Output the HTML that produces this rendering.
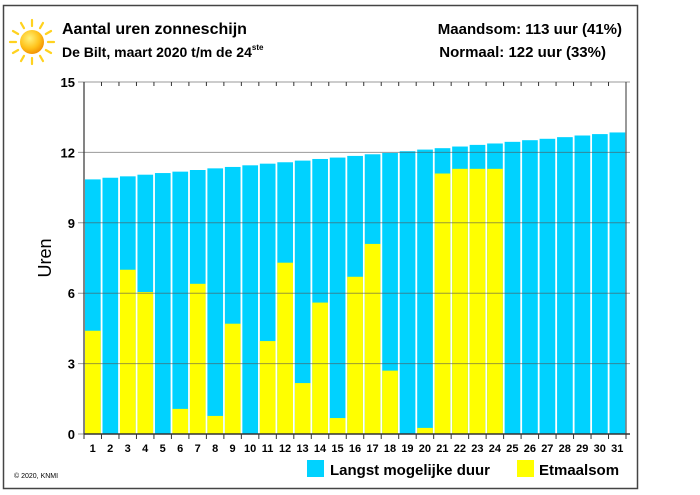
<!DOCTYPE html>
<html><head><meta charset="utf-8"><style>
body{margin:0;background:#fff;}
svg{display:block;font-family:"Liberation Sans",Arial,sans-serif;}
</style></head><body>
<svg width="700" height="495" viewBox="0 0 700 495">
<rect x="3.5" y="5.5" width="634" height="483" fill="#fff" stroke="#444" stroke-width="1.5"/>
<g>
<defs><radialGradient id="sg" cx="0.4" cy="0.35" r="0.7"><stop offset="0" stop-color="#fff27a"/><stop offset="0.6" stop-color="#ffc21a"/><stop offset="1" stop-color="#f08a00"/></radialGradient></defs>
<g stroke="#ffd21f" stroke-width="2.2" stroke-linecap="round" id="rays"></g>
<circle cx="32" cy="42" r="12" fill="url(#sg)"/>
</g>
<text x="62" y="34" font-size="16" font-weight="bold">Aantal uren zonneschijn</text>
<text x="62" y="57" font-size="14" font-weight="bold">De Bilt, maart 2020 t/m de 24<tspan font-size="8" dy="-7">ste</tspan></text>
<text x="622" y="34" font-size="15" font-weight="bold" text-anchor="end">Maandsom: 113 uur (41%)</text>
<text x="606" y="57" font-size="15" font-weight="bold" text-anchor="end">Normaal: 122 uur (33%)</text>
<g id="plot"></g>
<text transform="translate(51,258) rotate(-90)" font-size="18" text-anchor="middle">Uren</text>
<text x="14" y="478" font-size="7">© 2020, KNMI</text>
<rect x="307" y="460" width="17" height="17" fill="#00d2ff"/>
<text x="330" y="475" font-size="15" font-weight="bold">Langst mogelijke duur</text>
<rect x="517" y="460" width="17" height="17" fill="#ffff00"/>
<text x="539" y="475" font-size="15" font-weight="bold">Etmaalsom</text>
</svg>
<script>
const days=[1,2,3,4,5,6,7,8,9,10,11,12,13,14,15,16,17,18,19,20,21,22,23,24,25,26,27,28,29,30,31];
const daylight=[10.85,10.92,10.98,11.05,11.12,11.18,11.25,11.32,11.38,11.45,11.52,11.58,11.65,11.72,11.78,11.85,11.92,11.98,12.05,12.12,12.18,12.25,12.32,12.38,12.45,12.52,12.58,12.65,12.72,12.78,12.85];
const sunshine=[4.4,0,7.0,6.05,0,1.07,6.4,0.77,4.7,0,3.96,7.3,2.17,5.6,0.68,6.7,8.1,2.7,0,0.26,11.1,11.3,11.3,11.3,0,0,0,0,0,0,0];
const yTicks=[0,3,6,9,12,15];
const NS="http://www.w3.org/2000/svg";
const X0=84,X1=626,Y0=434,Y1=82,YMAX=15;
const bw=(X1-X0)/days.length;
const yS=v=>Y0-(v/YMAX)*(Y0-Y1);
const xS=i=>X0+i*bw;
function mk(t,a,p){const e=document.createElementNS(NS,t);for(const k in a)e.setAttribute(k,a[k]);(p||plot).appendChild(e);return e;}
const plot=document.getElementById('plot');
const rays=document.getElementById('rays');
for(let k=0;k<12;k++){const a=k*Math.PI/6;const l=mk('line',{x1:32+Math.cos(a)*16,y1:42+Math.sin(a)*16,x2:32+Math.cos(a)*22,y2:42+Math.sin(a)*22},rays);}
days.forEach((d,i)=>{
 const x=xS(i)+1,w=bw-1.8;
 const b=mk('rect',{x:x,y:yS(daylight[i]),width:w,height:Y0-yS(daylight[i]),fill:'#00d2ff'});
 
 
 if(sunshine[i]>0){const s=mk('rect',{x:x,y:yS(sunshine[i]),width:w,height:Y0-yS(sunshine[i]),fill:'#ffff00'});
 
 }
 const t=mk('text',{x:xS(i)+bw/2,y:452,'font-size':11,'font-weight':'bold','text-anchor':'middle'});
 t.textContent=d;
 
 
});
yTicks.forEach(v=>{
 const g=mk('line',{x1:X0-6,x2:X1+4,y1:yS(v),y2:yS(v),stroke:'#555','stroke-opacity':0.6,'stroke-width':1});
 
 
 const t=mk('text',{x:75,y:yS(v)+5,'font-size':13,'font-weight':'bold','text-anchor':'end'});
 t.textContent=v;
 
 
});
for(let i=0;i<=days.length;i++){
 mk('line',{x1:xS(i),x2:xS(i),y1:Y0,y2:Y0+5,stroke:'#333','stroke-width':1});
 mk('line',{x1:xS(i),x2:xS(i),y1:Y1,y2:Y1+4,stroke:'#333','stroke-width':1});
}
const ax=mk('line',{x1:X0,x2:X0,y1:Y1,y2:Y0,stroke:'#333','stroke-width':1.2});


mk('line',{x1:X1,x2:X1,y1:Y1,y2:Y0,stroke:'#333','stroke-width':1});
const bx=mk('line',{x1:X0,x2:X1+4,y1:Y0,y2:Y0,stroke:'#333','stroke-width':1.5});


</script>
</body></html>
